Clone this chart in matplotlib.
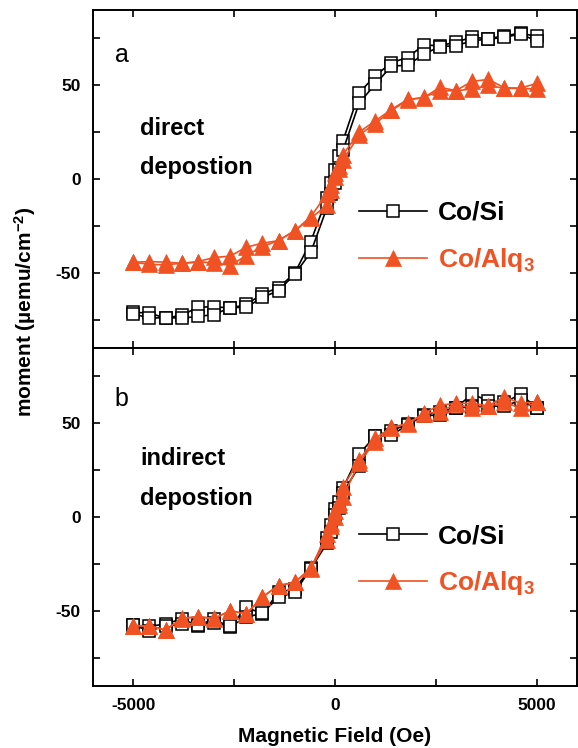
"""Hysteresis loops of Co films: direct vs indirect deposition on Si and Alq3."""
import matplotlib
matplotlib.use("Agg")
import matplotlib.pyplot as plt

plt.rcParams["font.family"] = ["Liberation Sans", "DejaVu Sans"]
plt.rcParams["font.weight"] = "bold"
plt.rcParams["axes.labelweight"] = "bold"
plt.rcParams["mathtext.fontset"] = "custom"
plt.rcParams["mathtext.rm"] = "Liberation Sans:bold"
plt.rcParams["mathtext.it"] = "Liberation Sans:bold"
plt.rcParams["mathtext.bf"] = "Liberation Sans:bold"

ORANGE = "#F05223"

# field grid (Oe), same for both branches of every loop
field = [-5000, -4600, -4200, -3800, -3400, -3000, -2600, -2200, -1800, -1400,
         -1000, -600, -200, -100, 0, 100, 200, 600, 1000, 1400, 1800, 2200,
         2600, 3000, 3400, 3800, 4200, 4600, 5000]

# panel a: direct deposition (descending / ascending branch)
a_si_down = [-71.0, -71.4, -74.1, -72.5, -68.4, -67.9, -68.8, -66.8, -61.3, -57.8,
             -50.2, -33.3, -10.0, -2.0, 5.0, 12.0, 20.5, 46.0, 55.0, 62.0, 64.7, 71.4,
             70.9, 73.0, 75.4, 74.8, 76.2, 77.7, 75.9]
a_si_up = [-71.8, -74.1, -73.8, -74.1, -73.2, -72.2, -68.5, -68.3, -63.1, -59.4,
           -50.8, -39.0, -15.3, -8.0, -2.0, 5.0, 15.4, 40.5, 50.5, 60.2, 60.5, 66.5,
           70.5, 71.0, 73.6, 74.5, 75.4, 77.3, 73.4]
a_alq_down = [-44.3, -44.0, -44.3, -44.9, -44.0, -41.8, -41.1, -36.3, -34.2, -32.8,
              -27.7, -20.0, -8.0, -3.0, 3.0, 7.0, 13.0, 25.0, 31.0, 37.0, 42.4, 43.3,
              48.8, 47.1, 52.0, 53.0, 48.6, 48.4, 50.9]
a_alq_up = [-44.3, -45.5, -45.7, -44.9, -44.3, -44.5, -46.1, -40.8, -36.0, -32.8,
            -27.5, -21.0, -13.8, -6.0, 1.0, 5.5, 10.0, 23.5, 29.5, 36.5, 42.0, 43.5,
            47.0, 47.0, 47.9, 49.8, 48.3, 48.2, 47.9]

# panel b: indirect deposition
b_si_down = [-57.6, -58.3, -56.9, -54.3, -57.8, -54.3, -58.7, -48.0, -51.6, -40.1,
             -38.3, -27.3, -11.0, -4.0, 4.0, 8.0, 15.5, 33.5, 43.3, 45.9, 49.5, 54.3,
             56.0, 58.3, 65.4, 61.9, 61.0, 65.4, 58.1]
b_si_up = [-57.6, -60.6, -58.0, -57.1, -57.5, -56.2, -58.3, -53.4, -51.2, -42.7,
           -40.2, -27.5, -14.0, -8.0, 1.0, 5.0, 13.0, 27.1, 43.0, 43.6, 49.0, 54.0,
           54.3, 58.0, 58.7, 59.0, 59.0, 62.2, 57.8]
b_alq_down = [-57.8, -58.3, -60.1, -54.3, -53.0, -54.3, -49.8, -51.6, -42.7, -36.5,
              -34.8, -27.3, -9.0, -3.0, 3.0, 8.0, 16.1, 30.3, 41.9, 47.7, 49.8, 55.2,
              59.6, 60.5, 60.5, 59.2, 64.0, 60.5, 61.3]
b_alq_up = [-57.8, -58.0, -60.1, -54.0, -53.0, -54.0, -50.0, -51.6, -42.5, -36.5,
            -34.8, -27.5, -12.0, -5.0, 0.2, 6.4, 10.8, 29.0, 40.1, 47.5, 49.5, 55.0,
            56.0, 60.3, 57.8, 59.0, 61.3, 57.8, 61.0]

x_ticks = [-5000, -2500, 0, 2500, 5000]
x_ticklabels = ["-5000", "", "0", "", "5000"]
y_ticks = [-75, -50, -25, 0, 25, 50, 75]
y_ticklabels = ["", "-50", "", "0", "", "50", ""]

panels = [
    ("a", ["direct", "depostion"], a_si_down, a_si_up, a_alq_down, a_alq_up),
    ("b", ["indirect", "depostion"], b_si_down, b_si_up, b_alq_down, b_alq_up),
]

fig = plt.figure(figsize=(5.78, 7.48), dpi=100)
W, H = 578, 748
ax_top = fig.add_axes([93 / W, 1 - 348 / H, 484 / W, 338 / H])
ax_bot = fig.add_axes([93 / W, 1 - 686 / H, 484 / W, 338 / H])

text_pos = {"a": (0.846, 0.630, 0.515, 0.327), "b": (0.828, 0.654, 0.536, 0.371)}

for ax, (tag, words, si_d, si_u, alq_d, alq_u) in zip([ax_top, ax_bot], panels):
    sq = dict(color="black", lw=1.2, marker="s", ms=8.5, mfc="white",
              mec="black", mew=1.1)
    tri = dict(color=ORANGE, lw=1.2, marker="^", ms=11.5, mfc=ORANGE,
               mec=ORANGE, mew=0.5)
    h_si, = ax.plot(field, si_d, **sq)
    ax.plot(field, si_u, **sq)
    h_alq, = ax.plot(field, alq_d, **tri)
    ax.plot(field, alq_u, **tri)

    ax.set_xlim(-6000, 6000)
    ax.set_ylim(-90, 90)
    ax.set_xticks(x_ticks, x_ticklabels if ax is ax_bot else [""] * 5)
    ax.set_yticks(y_ticks, y_ticklabels)
    ax.tick_params(direction="in", top=True, right=True, length=5, width=1.2,
                   labelsize=12.5, pad=9)
    for s in ax.spines.values():
        s.set_linewidth(1.4)

    y_tag, y_w1, y_w2, y_leg = text_pos[tag]
    ax.text(0.045, y_tag, tag, transform=ax.transAxes, fontsize=18,
            fontweight="normal", va="baseline")
    ax.text(0.098, y_w1, words[0], transform=ax.transAxes, fontsize=17,
            va="baseline")
    ax.text(0.098, y_w2, words[1], transform=ax.transAxes, fontsize=17,
            va="baseline")

    ax.legend([h_si, h_alq], ["Co/Si", r"Co/Alq$_3$"], loc="center left",
              bbox_to_anchor=(0.549, y_leg), frameon=False, borderpad=0,
              borderaxespad=0, handlelength=2.6, handletextpad=0.4,
              labelspacing=0.8, numpoints=1, labelcolor="linecolor",
              prop=dict(weight="bold", size=19))

ax_bot.set_xlabel("Magnetic Field (Oe)", fontsize=15, fontweight="bold",
                  labelpad=10)
fig.text(25 / W, 1 - 312 / H, "moment (\u00b5emu/cm$^{-2}$)", rotation=90,
         ha="center", va="center", fontsize=15, fontweight="bold")

fig.savefig("out.png", dpi=100)
